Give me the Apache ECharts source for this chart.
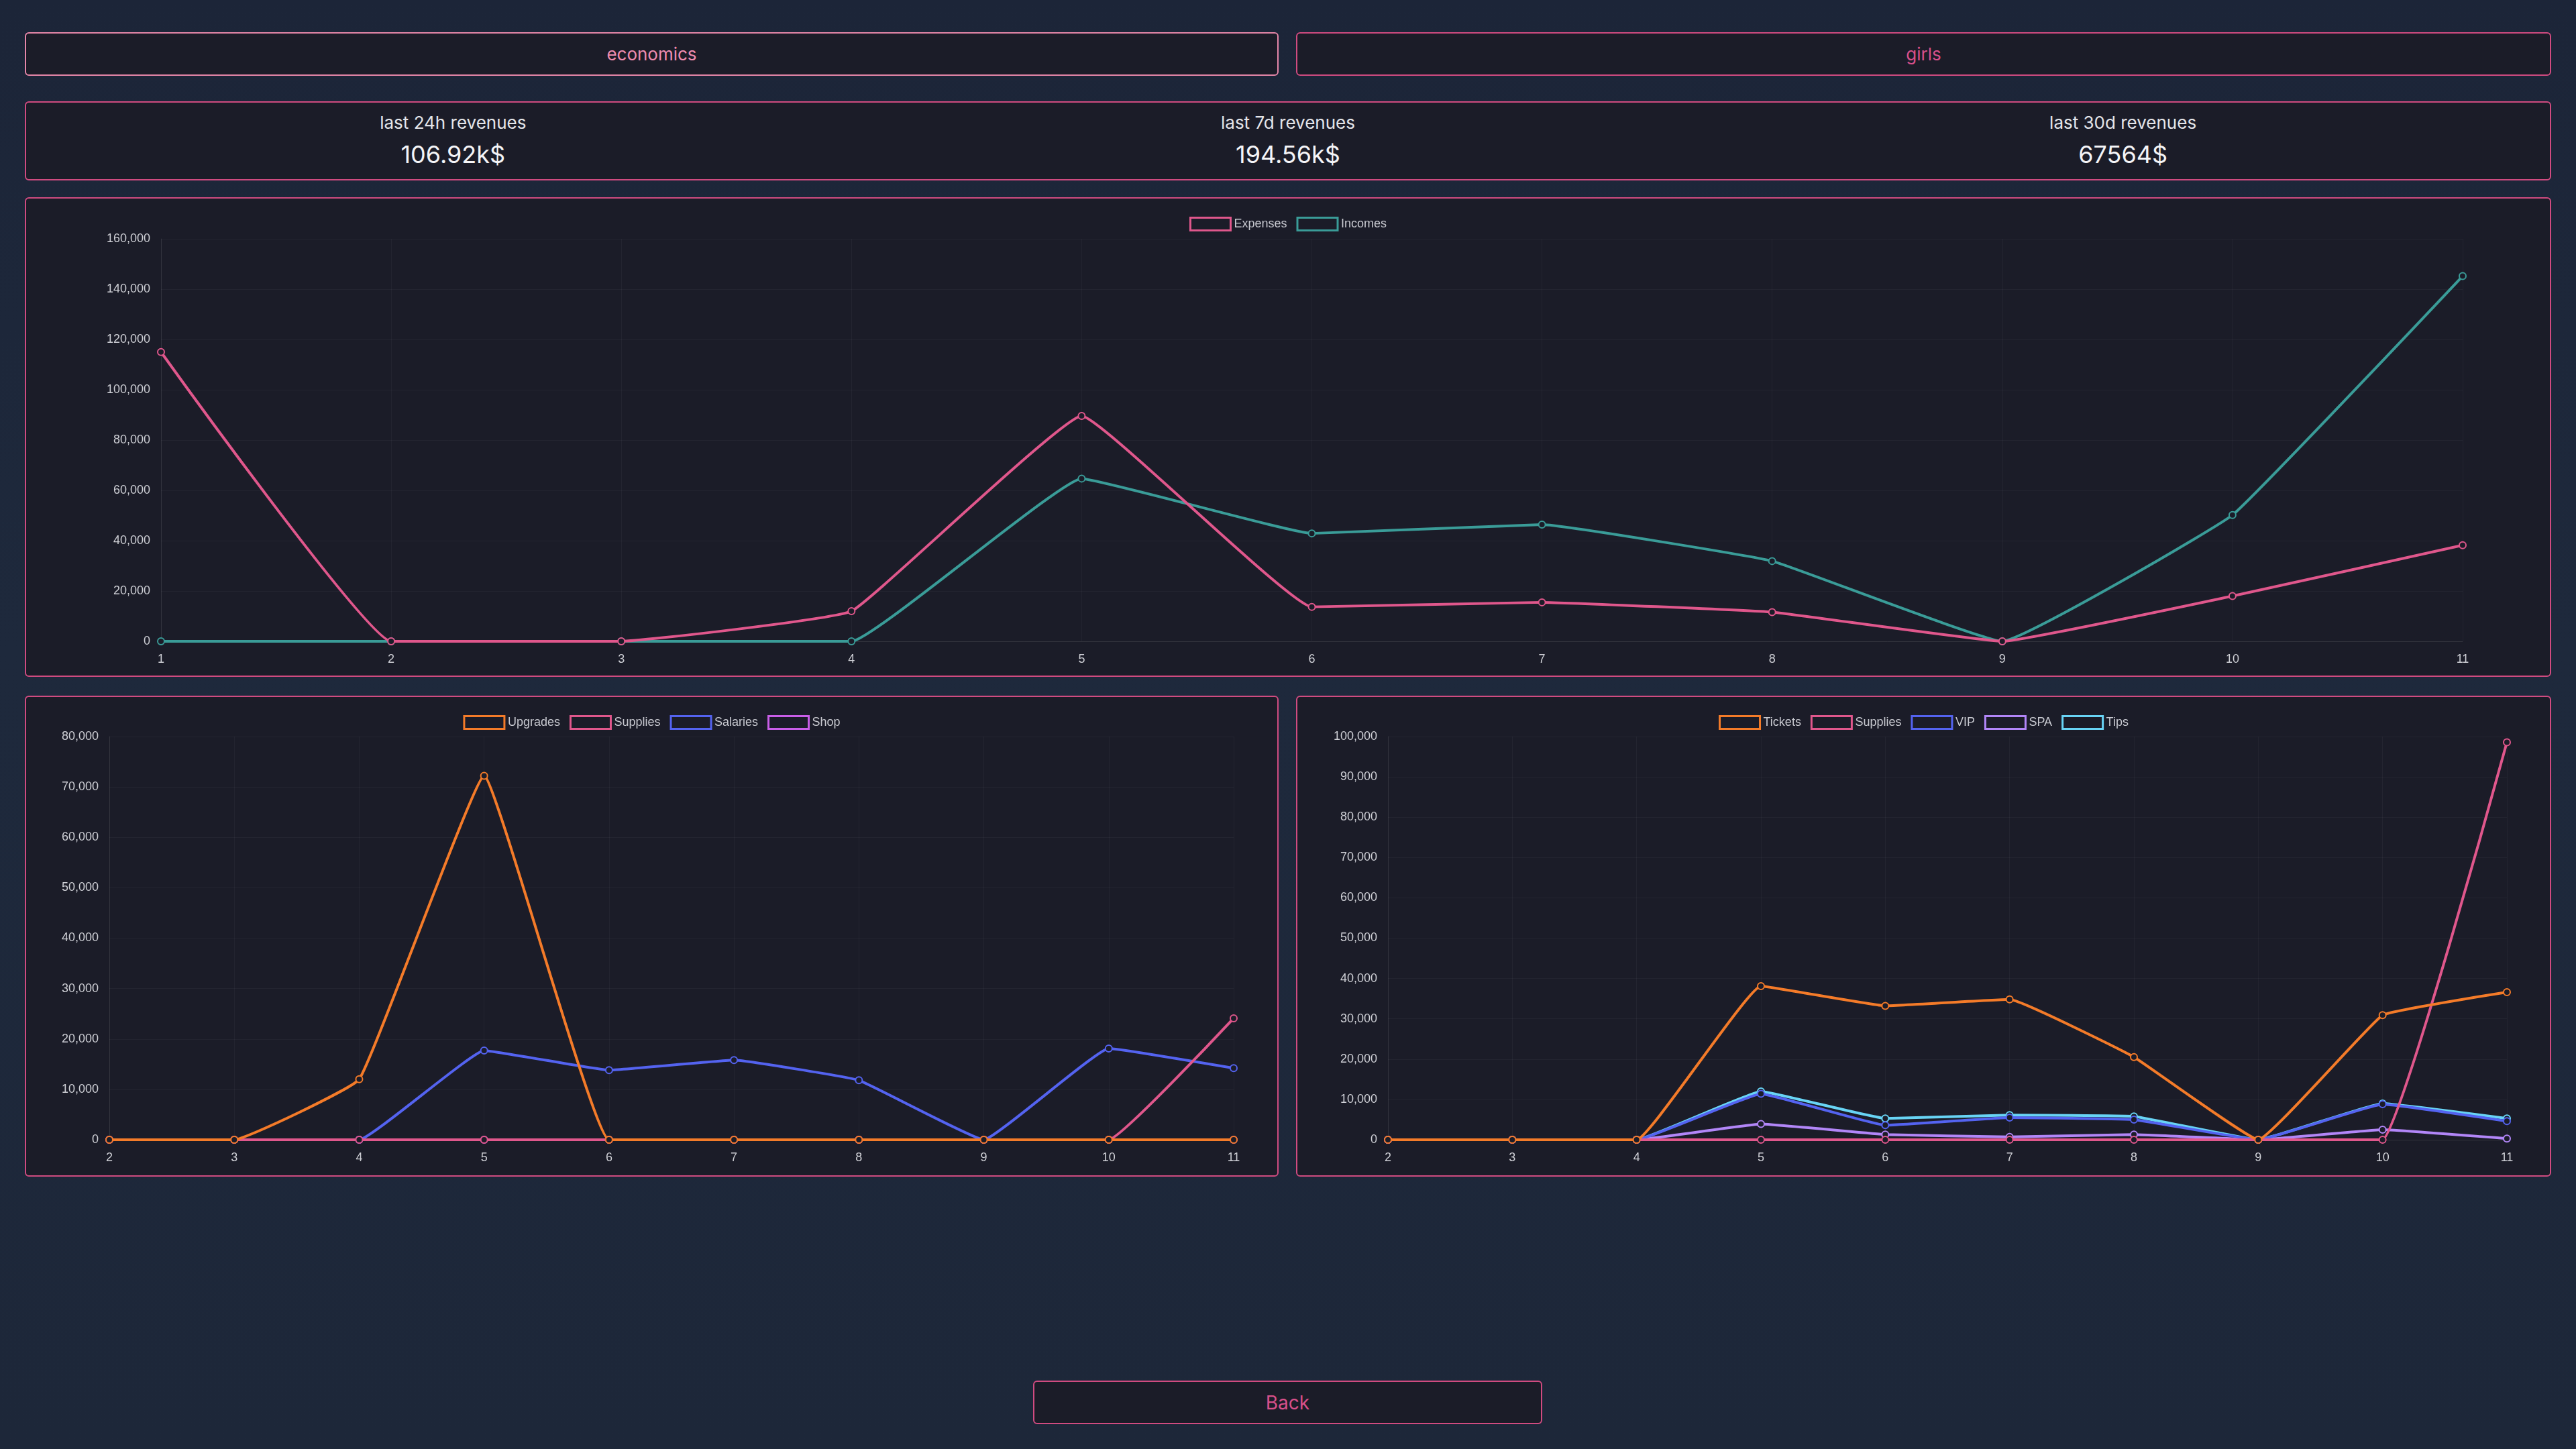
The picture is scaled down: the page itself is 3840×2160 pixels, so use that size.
<!DOCTYPE html>
<html>
<head>
<meta charset="utf-8">
<title>economics</title>
<script src="https://cdn.jsdelivr.net/npm/echarts/dist/echarts.min.js"></script>
<style>
  html, body {
    margin: 0;
    padding: 0;
    width: 3840px;
    height: 2160px;
    overflow: hidden;
  }
  body {
    position: relative;
    background: linear-gradient(180deg, #1c2538 0%, #1e293c 45%, #1d2739 100%);
    font-family: Inter, 'Liberation Sans', sans-serif;
  }
  .panel {
    position: absolute;
    box-sizing: border-box;
    background: #1b1c28;
    border: 2px solid #d04b80;
    border-radius: 6px;
  }
  .btn {
    display: flex;
    align-items: center;
    justify-content: center;
    font-size: 26px;
    color: #d9508a;
  }
  .btn.active {
    border-color: #e586a8;
    color: #f08db1;
  }
  .stats-inner {
    position: absolute;
    left: 14px;
    right: 14px;
    top: 0;
    bottom: 0;
  }
  .stat {
    position: absolute;
    top: 0;
    width: 33.333%;
    text-align: center;
  }
  .stat .label {
    margin-top: 14px;
    font-size: 26px;
    color: #e4e5ea;
  }
  .stat .value {
    margin-top: 10px;
    font-size: 36px;
    color: #f4f4f7;
  }
  .chart {
    position: absolute;
    left: 0;
    top: 0;
    width: 100%;
    height: 100%;
  }
</style>
</head>
<body>

<div class="panel btn active" style="left:37px;top:48px;width:1869px;height:65px;">economics</div>
<div class="panel btn" style="left:1932px;top:48px;width:1871px;height:65px;">girls</div>

<div class="panel" style="left:37px;top:151px;width:3766px;height:118px;">
  <div class="stats-inner" id="stats"></div>
</div>

<div class="panel" style="left:37px;top:294px;width:3766px;height:715px;">
  <div class="chart" id="mainChart"></div>
</div>
<div class="panel" style="left:37px;top:1037px;width:1869px;height:717px;">
  <div class="chart" id="economyChart"></div>
</div>
<div class="panel" style="left:1932px;top:1037px;width:1871px;height:717px;">
  <div class="chart" id="girlsChart"></div>
</div>

<div class="panel btn" style="left:1540px;top:2058px;width:759px;height:65px;font-size:28px;">Back</div>

<script>
// revenue boxes
const statLabels = ['last 24h revenues', 'last 7d revenues', 'last 30d revenues']
const statValues = ['106.92k$', '194.56k$', '67564$']

// expenses / incomes per day
const mainDays = ['1', '2', '3', '4', '5', '6', '7', '8', '9', '10', '11']
const expenses = [115000, 0, 0, 12000, 89600, 13700, 15500, 11600, 0, 18000, 38200]
const incomes = [0, 0, 0, 0, 64700, 42900, 46400, 31900, 0, 50200, 145200]

// economics breakdown
const economyDays = ['2', '3', '4', '5', '6', '7', '8', '9', '10', '11']
const upgrades = [0, 0, 12000, 72200, 0, 0, 0, 0, 0, 0]
const economySupplies = [0, 0, 0, 0, 0, 0, 0, 0, 0, 24100]
const salaries = [0, 0, 0, 17700, 13800, 15800, 11800, 0, 18100, 14200]
const shop = [0, 0, 0, 0, 0, 0, 0, 0, 0, 0]

// girls breakdown
const girlsDays = ['2', '3', '4', '5', '6', '7', '8', '9', '10', '11']
const tickets = [0, 0, 0, 38100, 33200, 34800, 20500, 0, 30900, 36600]
const girlsSupplies = [0, 0, 0, 0, 0, 0, 0, 0, 0, 98600]
const vip = [0, 0, 0, 11400, 3600, 5500, 5000, 0, 8800, 4600]
const spa = [0, 0, 0, 3900, 1300, 700, 1300, 0, 2500, 300]
const tips = [0, 0, 0, 12000, 5300, 6100, 5800, 0, 9000, 5300]

const PINK = '#e0578c'
const TEAL = '#3a9c98'
const ORANGE = '#f47b29'
const BLUE = '#5463f0'
const PURPLE = '#c95ee8'
const LAVENDER = '#b286f8'
const CYAN = '#68d4f5'
const PANEL_BG = '#1b1c28'
const FONT = "'Liberation Sans', Arial, sans-serif"

const statsEl = document.getElementById('stats')
statLabels.forEach(function(label, i) {
  const div = document.createElement('div')
  div.className = 'stat'
  div.style.left = (i * 33.333) + '%'
  div.innerHTML = '<div class="label">' + label + '</div><div class="value">' + statValues[i] + '</div>'
  statsEl.appendChild(div)
})

function makeSeries(name, data, color, index, total) {
  return {
    name: name,
    type: 'line',
    data: data,
    smooth: 0.08,
    // chart.js draws the first dataset on top
    z: 2 + total - index,
    symbol: 'circle',
    symbolSize: 10,
    showSymbol: true,
    lineStyle: { color: color, width: 4 },
    itemStyle: { color: PANEL_BG, borderColor: color, borderWidth: 2 },
    emphasis: { disabled: true },
    animation: false
  }
}

function buildOption(days, list, max, interval, grid) {
  return {
    backgroundColor: 'transparent',
    textStyle: { fontFamily: FONT },
    legend: {
      top: 22,
      left: 'center',
      icon: 'rect',
      itemWidth: 60,
      itemHeight: 19,
      itemGap: 14,
      textStyle: { color: '#c8c9d0', fontSize: 18, fontFamily: FONT },
      data: list.map(function(s) {
        return {
          name: s.name,
          itemStyle: { color: 'rgba(0,0,0,0)', borderColor: s.color, borderWidth: 3 }
        }
      })
    },
    grid: grid,
    xAxis: {
      type: 'category',
      data: days,
      boundaryGap: false,
      axisLine: { show: true, lineStyle: { color: 'rgba(255,255,255,0.07)' } },
      axisTick: { show: false },
      axisLabel: { color: '#cfd0d6', fontSize: 18, margin: 18, fontFamily: FONT },
      splitLine: { show: true, lineStyle: { color: 'rgba(255,255,255,0.04)', width: 1 } }
    },
    yAxis: {
      type: 'value',
      min: 0,
      max: max,
      interval: interval,
      axisLine: { show: true, lineStyle: { color: 'rgba(255,255,255,0.07)' } },
      axisTick: { show: false },
      axisLabel: {
        color: '#cfd0d6',
        fontSize: 18,
        margin: 16,
        fontFamily: FONT,
        formatter: function(v) {
          return v.toLocaleString('en-US')
        }
      },
      splitLine: { show: true, lineStyle: { color: 'rgba(255,255,255,0.04)', width: 1 } }
    },
    series: list.map(function(s, i) {
      return makeSeries(s.name, s.data, s.color, i, list.length)
    })
  }
}

const mainChart = echarts.init(document.getElementById('mainChart'))
mainChart.setOption(buildOption(mainDays, [
  { name: 'Expenses', data: expenses, color: PINK },
  { name: 'Incomes', data: incomes, color: TEAL }
], 160000, 20000, { left: 201, right: 130, top: 60, bottom: 51 }))

const economyChart = echarts.init(document.getElementById('economyChart'))
economyChart.setOption(buildOption(economyDays, [
  { name: 'Upgrades', data: upgrades, color: ORANGE },
  { name: 'Supplies', data: economySupplies, color: PINK },
  { name: 'Salaries', data: salaries, color: BLUE },
  { name: 'Shop', data: shop, color: PURPLE }
], 80000, 10000, { left: 124, right: 65, top: 59, bottom: 53 }))

const girlsChart = echarts.init(document.getElementById('girlsChart'))
girlsChart.setOption(buildOption(girlsDays, [
  { name: 'Tickets', data: tickets, color: ORANGE },
  { name: 'Supplies', data: girlsSupplies, color: PINK },
  { name: 'VIP', data: vip, color: BLUE },
  { name: 'SPA', data: spa, color: LAVENDER },
  { name: 'Tips', data: tips, color: CYAN }
], 100000, 10000, { left: 135, right: 64, top: 59, bottom: 53 }))
</script>
</body>
</html>
